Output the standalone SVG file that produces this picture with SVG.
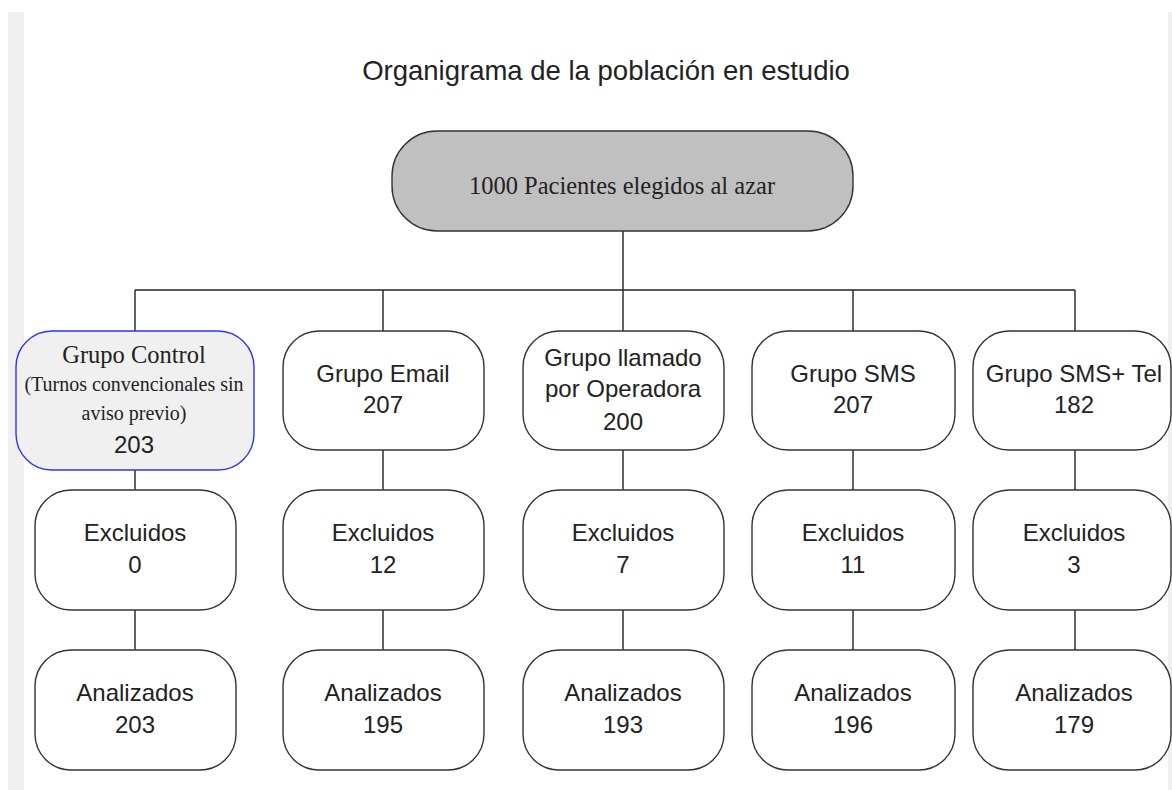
<svg xmlns="http://www.w3.org/2000/svg" width="1172" height="790" viewBox="0 0 1172 790">
<style>
.box{fill:#fff;stroke:#333;stroke-width:1.4}
.sans{font-family:"Liberation Sans",Arial,sans-serif;font-size:24px;fill:#222;text-anchor:middle}
.serif{font-family:"Liberation Serif","Times New Roman",serif;fill:#222;text-anchor:middle}
.conn line{stroke:#222;stroke-width:1.4}
</style>
<rect x="0" y="0" width="1172" height="790" fill="#fff"/>
<rect x="8" y="12" width="16" height="778" fill="#f0f0f0"/>
<rect x="1168" y="12" width="4" height="778" fill="#f0f0f0"/>
<text x="606" y="80" font-family="Liberation Sans,Arial,sans-serif" font-size="27.5" fill="#222" text-anchor="middle">Organigrama de la población en estudio</text>
<g class="conn" id="connectors">
<line x1="623" y1="231" x2="623" y2="290"/>
<line x1="135" y1="290" x2="1075" y2="290"/>
<line x1="135" y1="290" x2="135" y2="331"/>
<line x1="383" y1="290" x2="383" y2="331"/>
<line x1="623" y1="290" x2="623" y2="331"/>
<line x1="853" y1="290" x2="853" y2="331"/>
<line x1="1075" y1="290" x2="1075" y2="331"/>
<line x1="135" y1="470" x2="135" y2="490"/>
<line x1="383" y1="450" x2="383" y2="490"/>
<line x1="623" y1="450" x2="623" y2="490"/>
<line x1="853" y1="450" x2="853" y2="490"/>
<line x1="1075" y1="450" x2="1075" y2="490"/>
<line x1="135" y1="610" x2="135" y2="650"/>
<line x1="383" y1="610" x2="383" y2="650"/>
<line x1="623" y1="610" x2="623" y2="650"/>
<line x1="853" y1="610" x2="853" y2="650"/>
<line x1="1075" y1="610" x2="1075" y2="650"/>
</g>
<g id="root">
<rect x="392" y="131" width="461" height="100" rx="45" fill="#c0c0c0" stroke="#333" stroke-width="1.4"/>
<text class="serif" x="622" y="194" font-size="24.5">1000 Pacientes elegidos al azar</text>
</g>
<g id="control">
<rect x="16" y="331" width="238" height="139" rx="36" fill="#f0f0f0" stroke="#3333ee" stroke-width="1.4"/>
<text class="serif" x="134" y="363" font-size="24.5">Grupo Control</text>
<text class="serif" x="134" y="391" font-size="20">(Turnos convencionales sin</text>
<text class="serif" x="134" y="420" font-size="20">aviso previo)</text>
<text class="sans" x="134" y="453">203</text>
</g>
<g id="email">
<rect class="box" x="283" y="331" width="201" height="119" rx="36"/>
<text class="sans" x="383" y="382">Grupo Email</text>
<text class="sans" x="383" y="413">207</text>
</g>
<g id="llamado">
<rect class="box" x="523" y="331" width="201" height="119" rx="36"/>
<text class="sans" x="623" y="366">Grupo llamado</text>
<text class="sans" x="623" y="397">por Operadora</text>
<text class="sans" x="623" y="430">200</text>
</g>
<g id="sms">
<rect class="box" x="752" y="331" width="203" height="119" rx="36"/>
<text class="sans" x="853" y="382">Grupo SMS</text>
<text class="sans" x="853" y="413">207</text>
</g>
<g id="smstel">
<rect class="box" x="973" y="331" width="198" height="119" rx="36"/>
<text class="sans" x="1074" y="382">Grupo SMS+ Tel</text>
<text class="sans" x="1074" y="413">182</text>
</g>
<g id="excl-control">
<rect class="box" x="35" y="490" width="201" height="120" rx="36"/>
<text class="sans" x="135" y="541">Excluidos</text>
<text class="sans" x="135" y="573">0</text>
</g>
<g id="excl-email">
<rect class="box" x="283" y="490" width="201" height="120" rx="36"/>
<text class="sans" x="383" y="541">Excluidos</text>
<text class="sans" x="383" y="573">12</text>
</g>
<g id="excl-llamado">
<rect class="box" x="523" y="490" width="201" height="120" rx="36"/>
<text class="sans" x="623" y="541">Excluidos</text>
<text class="sans" x="623" y="573">7</text>
</g>
<g id="excl-sms">
<rect class="box" x="752" y="490" width="203" height="120" rx="36"/>
<text class="sans" x="853" y="541">Excluidos</text>
<text class="sans" x="853" y="573">11</text>
</g>
<g id="excl-smstel">
<rect class="box" x="973" y="490" width="198" height="120" rx="36"/>
<text class="sans" x="1074" y="541">Excluidos</text>
<text class="sans" x="1074" y="573">3</text>
</g>
<g id="anal-control">
<rect class="box" x="35" y="650" width="201" height="120" rx="36"/>
<text class="sans" x="135" y="701">Analizados</text>
<text class="sans" x="135" y="733">203</text>
</g>
<g id="anal-email">
<rect class="box" x="283" y="650" width="201" height="120" rx="36"/>
<text class="sans" x="383" y="701">Analizados</text>
<text class="sans" x="383" y="733">195</text>
</g>
<g id="anal-llamado">
<rect class="box" x="523" y="650" width="201" height="120" rx="36"/>
<text class="sans" x="623" y="701">Analizados</text>
<text class="sans" x="623" y="733">193</text>
</g>
<g id="anal-sms">
<rect class="box" x="752" y="650" width="203" height="120" rx="36"/>
<text class="sans" x="853" y="701">Analizados</text>
<text class="sans" x="853" y="733">196</text>
</g>
<g id="anal-smstel">
<rect class="box" x="973" y="650" width="198" height="120" rx="36"/>
<text class="sans" x="1074" y="701">Analizados</text>
<text class="sans" x="1074" y="733">179</text>
</g>
</svg>
